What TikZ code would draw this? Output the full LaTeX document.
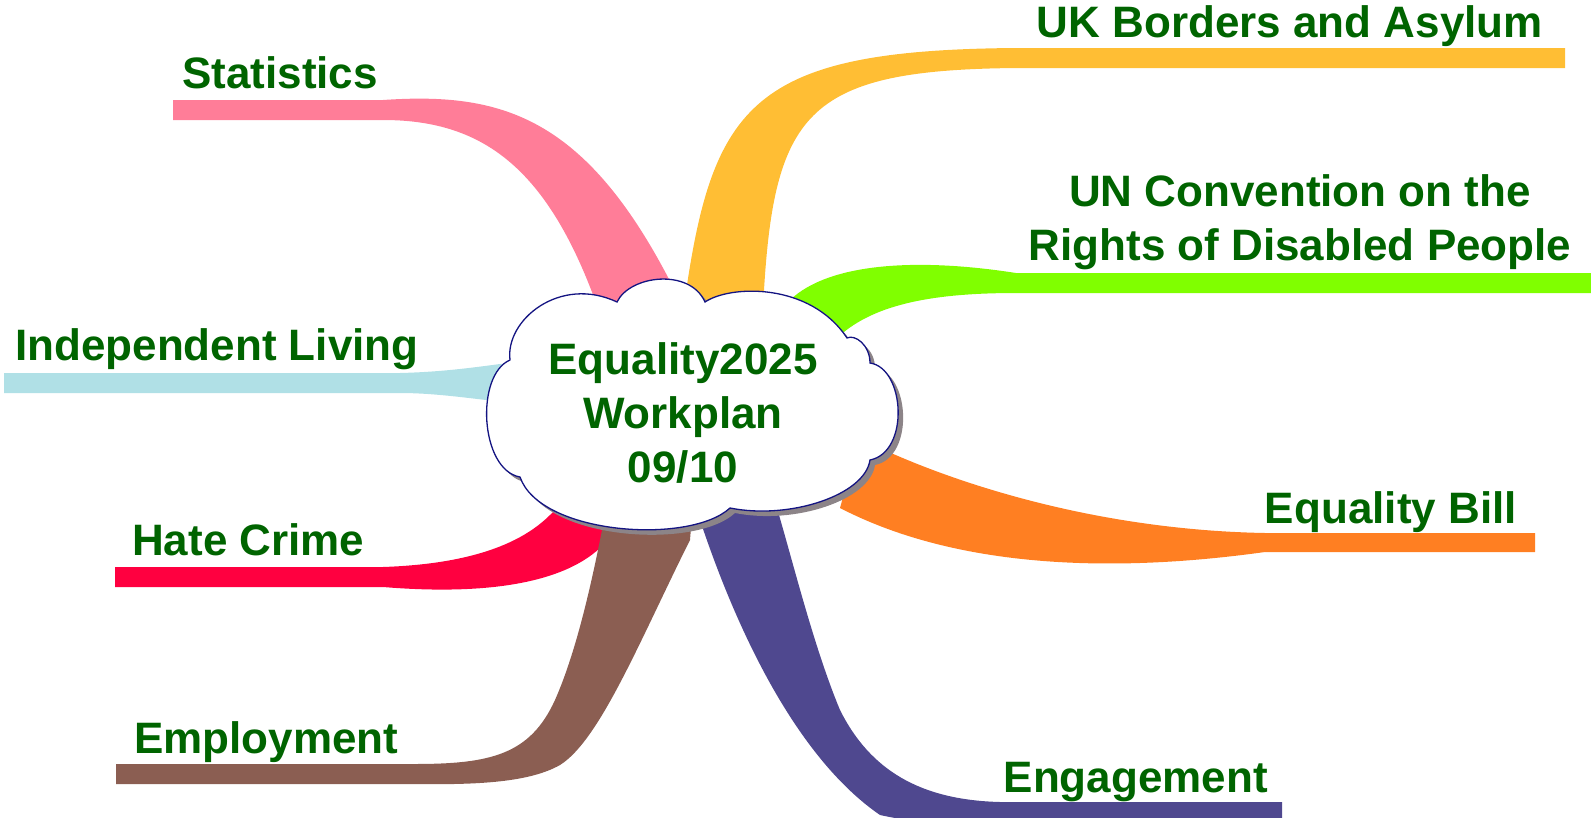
\documentclass[tikz,border=0pt]{standalone}
\usepackage{fontspec}
\setmainfont{Liberation Sans}
\definecolor{tgreen}{RGB}{0,100,0}
\definecolor{cpink}{RGB}{255,125,152}
\definecolor{cyellow}{RGB}{255,190,52}
\definecolor{cgreen}{RGB}{128,255,0}
\definecolor{cblue}{RGB}{176,224,230}
\definecolor{cred}{RGB}{255,0,64}
\definecolor{cbrown}{RGB}{139,94,82}
\definecolor{corange}{RGB}{255,127,34}
\definecolor{cpurple}{RGB}{79,72,143}
\definecolor{cnavy}{RGB}{20,20,130}
\definecolor{cshadow}{RGB}{140,132,136}
\tikzset{
  lbl/.style={font=\fontsize{44}{54}\selectfont\bfseries, text=tgreen, inner sep=0pt},
}
\newcommand{\eqcloud}[1]{\path[#1] (510,360) .. controls (505,320) and (560,275) .. (617,302)
  .. controls (630,275) and (690,268) .. (705,302)
  .. controls (730,285) and (810,282) .. (847,338)
  .. controls (855,334) and (870,345) .. (870,363)
  .. controls (905,368) and (910,452) .. (870,460)
  .. controls (865,495) and (790,520) .. (730,508)
  .. controls (690,545) and (540,535) .. (520,477)
  .. controls (480,470) and (475,375) .. (510,360) -- cycle;}
\begin{document}
\begin{tikzpicture}[x=1pt,y=-1pt]
\useasboundingbox (0,0) rectangle (1591,817);
\coordinate (c) at (690,404);
% Statistics (pink)
\fill[cpink] (173,100) -- (383,100) .. controls (500,92) and (585,115) .. (672,285) -- (685,310) -- (c)
  -- (605,320) -- (595,300) .. controls (545,165) and (480,120) .. (383,120) -- (173,120) -- cycle;
% UK Borders (yellow)
\fill[cyellow] (684,310) -- (687,285) .. controls (715,100) and (760,50) .. (1016,48) -- (1565,48)
  -- (1565,68) -- (1016,68) .. controls (810,70) and (775,110) .. (764,290) -- (765,315) -- (c) -- cycle;
% UN Convention (green)
\fill[cgreen] (800,320) -- (790,300) .. controls (830,262) and (920,258) .. (1016,273) -- (1600,273)
  -- (1600,293) -- (1016,293) .. controls (930,293) and (870,305) .. (835,340) -- (825,350) -- (c) -- cycle;
% Independent Living (light blue)
\fill[cblue] (4,373) -- (400,373) .. controls (440,372) and (470,368) .. (500,364) -- (530,362) -- (c)
  -- (520,402) -- (486,400) .. controls (460,397) and (430,393) .. (400,393) -- (4,393) -- cycle;
% Equality Bill (orange)
\fill[corange] (870,440) -- (880,448) .. controls (960,485) and (1100,530) .. (1265,533) -- (1535,533)
  -- (1535,552) -- (1265,552) .. controls (1100,575) and (950,565) .. (840,508) -- (845,490) -- (c) -- cycle;
% Engagement (purple)
\fill[cpurple] (700,505) -- (700,520) .. controls (740,640) and (800,760) .. (880,815)
  .. controls (920,824) and (960,824) .. (1000,824) -- (1282,824) -- (1282,802) -- (1000,802)
  .. controls (920,800) and (870,770) .. (840,710) .. controls (815,650) and (795,570) .. (779,515) -- (775,500) -- (c) -- cycle;
% Hate Crime (red)
\fill[cred] (115,567) -- (383,567) .. controls (440,565) and (510,555) .. (550,515) -- (565,500) -- (c)
  -- (615,530) -- (600,548) .. controls (560,585) and (480,595) .. (383,587) -- (115,587) -- cycle;
% Employment (brown)
\fill[cbrown] (116,764) -- (414,764) .. controls (490,764) and (530,755) .. (555,700)
  .. controls (575,655) and (590,590) .. (600,540) -- (605,515) -- (c) -- (692,515) -- (690,540)
  .. controls (640,640) and (600,740) .. (560,765) .. controls (530,782) and (480,785) .. (414,784) -- (116,784) -- cycle;
% central cloud with its shadow
\eqcloud{fill=cshadow, shift={(5,5)}}
\eqcloud{fill=white, draw=cnavy, line width=1.3pt}
\node[lbl, align=center, anchor=base] (centre) at (683,482) {Equality2025\\Workplan\\09/10};
% labels
\node[lbl, anchor=base west] (stat) at (182,88) {Statistics};
\node[lbl, anchor=base east] (ukb) at (1543,37) {UK Borders and Asylum};
\node[lbl, align=center, anchor=base] (unc) at (1300,260) {UN Convention on the\\Rights of Disabled People};
\node[lbl, anchor=base west] (indep) at (15,360) {Independent Living};
\node[lbl, anchor=base west] (hate) at (132,555) {Hate Crime};
\node[lbl, anchor=base west] (emp) at (134,753) {Employment};
\node[lbl, anchor=base east] (eqb) at (1517,523) {Equality Bill};
\node[lbl, anchor=base east] (eng) at (1268,792) {Engagement};
\end{tikzpicture}
\end{document}
